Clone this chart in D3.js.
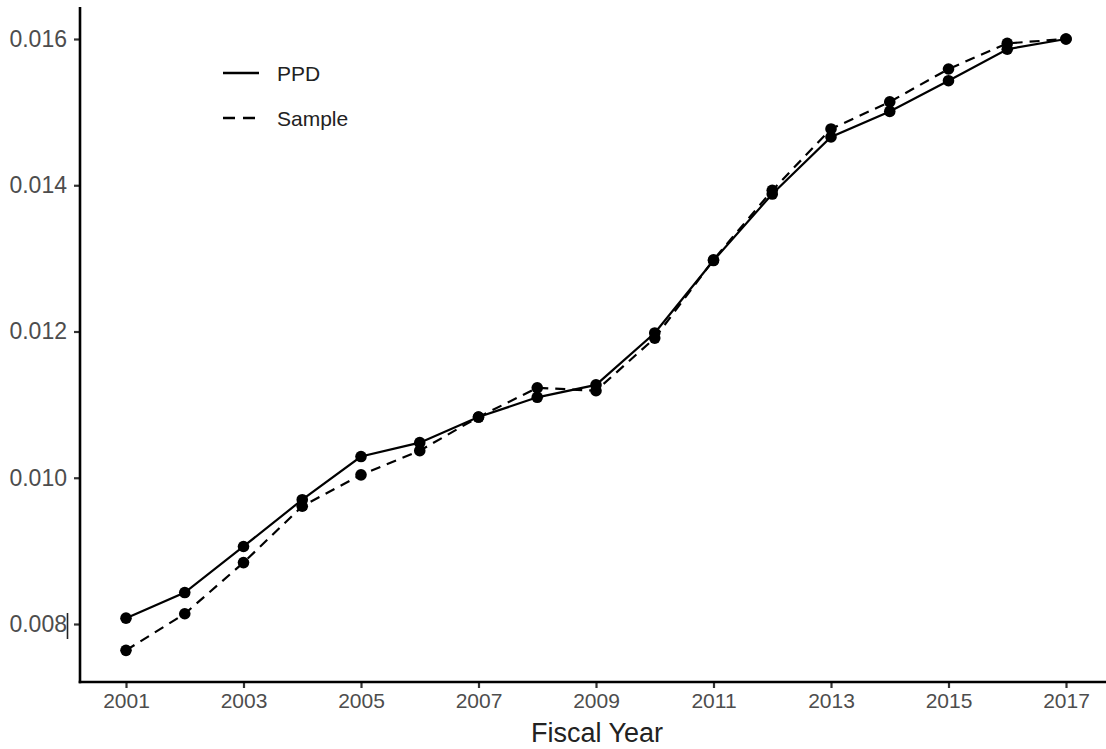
<!DOCTYPE html>
<html>
<head>
<meta charset="utf-8">
<script src="https://cdn.jsdelivr.net/npm/d3@7"></script>
<style>
  html, body { margin: 0; padding: 0; background: #fff; }
  svg { display: block; }
  text { font-family: "Liberation Sans", Arial, sans-serif; }
</style>
</head>
<body>
<svg id="chart" width="1106" height="749"></svg>
<script>
// Fiscal years and the two series compared
const years = [2001, 2002, 2003, 2004, 2005, 2006, 2007, 2008, 2009,
               2010, 2011, 2012, 2013, 2014, 2015, 2016, 2017];
const ppd = [0.00808, 0.00843, 0.00906, 0.00970, 0.01029, 0.01048, 0.01083,
             0.01110, 0.01127, 0.01198, 0.01297, 0.01388, 0.01466, 0.01501,
             0.01543, 0.01586, 0.01600];
const sample = [0.00764, 0.00814, 0.00884, 0.00961, 0.01004, 0.01037, 0.01083,
                0.01123, 0.01119, 0.01191, 0.01298, 0.01393, 0.01477, 0.01514,
                0.01559, 0.01594, 0.01600];
const xTicks = [2001, 2003, 2005, 2007, 2009, 2011, 2013, 2015, 2017];
const yTicks = [0.008, 0.010, 0.012, 0.014, 0.016];
const seriesNames = ["PPD", "Sample"];

const svg = d3.select("#chart");

const x = d3.scaleLinear().domain([2001, 2017]).range([126, 1066]);
const y = d3.scaleLinear().domain([0.008, 0.016]).range([624, 39]);

const axisX = 80, axisY = 682;

// y axis
const gy = svg.append("g")
  .attr("transform", `translate(${axisX},0)`)
  .call(d3.axisLeft(y).tickValues(yTicks).tickFormat(d3.format(".3f"))
    .tickSize(6).tickPadding(7));
gy.select(".domain").remove();
gy.selectAll(".tick line").attr("stroke", "#333").attr("stroke-width", 2.2);
gy.selectAll(".tick text").attr("fill", "#4d4d4d").style("font-size", "23px");

// x axis
const gx = svg.append("g")
  .attr("transform", `translate(0,${axisY})`)
  .call(d3.axisBottom(x).tickValues(xTicks).tickFormat(d3.format("d"))
    .tickSize(6).tickPadding(5));
gx.select(".domain").remove();
gx.selectAll(".tick line").attr("stroke", "#333").attr("stroke-width", 2.2);
gx.selectAll(".tick text").attr("fill", "#4d4d4d").style("font-size", "21px");

// axis lines
svg.append("line")
  .attr("x1", axisX).attr("x2", axisX).attr("y1", 7).attr("y2", axisY + 1.2)
  .attr("stroke", "#000").attr("stroke-width", 2.6);
svg.append("line")
  .attr("x1", axisX - 1.3).attr("x2", 1106).attr("y1", axisY).attr("y2", axisY)
  .attr("stroke", "#000").attr("stroke-width", 2.6);

// small mark beside the lowest y label
svg.append("line")
  .attr("x1", 67.5).attr("x2", 67.5).attr("y1", 613).attr("y2", 639)
  .attr("stroke", "#222").attr("stroke-width", 1.6);

// axis title
svg.append("text")
  .attr("x", 597).attr("y", 742)
  .attr("text-anchor", "middle")
  .attr("fill", "#222")
  .style("font-size", "27px")
  .text("Fiscal Year");

// lines and points
const line = d3.line().x((d, i) => x(years[i])).y(d => y(d));
const series = [
  { name: seriesNames[0], values: ppd, dash: null },
  { name: seriesNames[1], values: sample, dash: "10,7" }
];

series.forEach(s => {
  svg.append("path")
    .datum(s.values)
    .attr("d", line)
    .attr("fill", "none")
    .attr("stroke", "#000")
    .attr("stroke-width", 2.2)
    .attr("stroke-dasharray", s.dash);
});
series.forEach(s => {
  svg.append("g").selectAll("circle")
    .data(s.values)
    .join("circle")
    .attr("cx", (d, i) => x(years[i]))
    .attr("cy", d => y(d))
    .attr("r", 5.8)
    .attr("fill", "#000");
});

// legend
const legend = svg.append("g");
series.forEach((s, i) => {
  const ly = 73 + i * 45;
  legend.append("line")
    .attr("x1", 223).attr("x2", 259).attr("y1", ly).attr("y2", ly)
    .attr("stroke", "#000").attr("stroke-width", 2.6)
    .attr("stroke-dasharray", s.dash ? "12,8" : null);
  legend.append("text")
    .attr("x", 277).attr("y", ly + 8)
    .attr("fill", "#222")
    .style("font-size", "21px")
    .text(s.name);
});
</script>
</body>
</html>
